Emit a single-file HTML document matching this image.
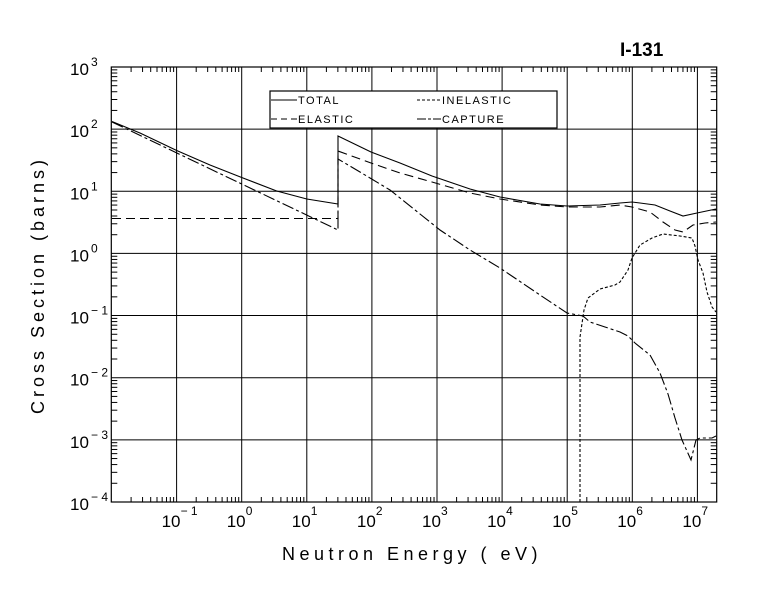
<!DOCTYPE html>
<html><head><meta charset="utf-8"><style>
html,body{margin:0;padding:0;background:#fff;}
svg{display:block;}
text{font-family:"Liberation Sans",sans-serif;fill:#000;}
</style></head><body>
<svg id="s" width="780" height="590" viewBox="0 0 780 590" xmlns="http://www.w3.org/2000/svg">
<g id="grid" stroke="#000" stroke-width="1" fill="none"></g>
<rect x="111.3" y="67" width="605.4" height="435" fill="none" stroke="#000" stroke-width="1.2"/>
<g fill="none" stroke="#000" stroke-width="1.1">
<polyline stroke-dasharray="12,3,3,3" points="112,122 338,230 338,159 360,172 390,190 420,214 440,230 470,250 500,268 540,295 567,313 583,316 590,322 605,327 620,332 628,336 635,343 650,355 660,373 668,394 675,418 682,440 691,460 696,440 700,438 712,438 716,436"/>
<polyline stroke-dasharray="9,5" points="112,218.5 338,218.5 338,151 371,163 400,173 432,182 470,193 500,199 540,205 567,207 600,207 620,205 632,207 650,212 663,222 675,230 683,232 693,225 705,223 716,222"/>
<polyline points="112,121.5 140,133 176.7,150.5 210,165 241.7,177.5 276.7,191 306.8,199 338,204 338,136 371,152 400,163 432,176 470,189 500,197 540,204 567,206 600,205 620,203 632,202 640,203 655,205 670,211 683,216 697,213 716,209"/>
<polyline stroke-dasharray="3,2" points="580,502 580,337 584,310 588,298 600,289 615,285 620,282 628,270 632,258 640,245 652,238 663,234 680,236 692,238 695,246 698,260 703,273 707,292 712,307 716,312"/>
</g>
<rect x="270" y="91" width="287" height="37" fill="#fff" stroke="#000" stroke-width="1.2"/>
<g stroke="#000" stroke-width="1">
<line x1="271" y1="100" x2="297" y2="100"/>
<line x1="271" y1="119" x2="297" y2="119" stroke-dasharray="6,4"/>
<line x1="417" y1="100" x2="441" y2="100" stroke-dasharray="3,2"/>
<line x1="417" y1="119" x2="441" y2="119" stroke-dasharray="9,2,3,2"/>
</g>
<g font-size="11" letter-spacing="1.5">
<text x="298" y="104">TOTAL</text>
<text x="298" y="123">ELASTIC</text>
<text x="442" y="104">INELASTIC</text>
<text x="442" y="123">CAPTURE</text>
</g>
<text x="620" y="56" font-size="19" font-weight="bold">I-131</text>
<g id="labels" font-size="17"></g>
<text x="412" y="560" font-size="18" text-anchor="middle" letter-spacing="4.5">Neutron Energy ( eV)</text>
<text transform="translate(44,285) rotate(-90)" font-size="18" text-anchor="middle" letter-spacing="4">Cross Section (barns)</text>
</svg>
<script>
var NS="http://www.w3.org/2000/svg";
var g=document.getElementById("grid"),L=document.getElementById("labels");
function ln(x1,y1,x2,y2){var l=document.createElementNS(NS,"line");l.setAttribute("x1",x1);l.setAttribute("y1",y1);l.setAttribute("x2",x2);l.setAttribute("y2",y2);g.appendChild(l);}
function tx(x,y,s,fs,anchor){var t=document.createElementNS(NS,"text");t.setAttribute("x",x);t.setAttribute("y",y);t.textContent=s;if(fs)t.setAttribute("font-size",fs);if(anchor)t.setAttribute("text-anchor",anchor);L.appendChild(t);}
var X0=241.7,DX=65.1,L0=111.3,R0=716.7,T0=67,B0=502,DY=62.14;
function xp(e){return X0+DX*e;}function yp(e){return T0+DY*(3-e);}
for(var d=-2;d<=7;d++){for(var k=1;k<10;k++){var e=d+Math.log10(k);var x=xp(e);if(x<L0+0.5||x>R0-0.5)continue;
 if(k==1){ln(x,T0,x,B0);}else{ln(x,B0,x,B0-5);ln(x,T0,x,T0+5);}}}
for(var d=-4;d<=2;d++){for(var k=1;k<10;k++){var e=d+Math.log10(k);var y=yp(e);if(y<T0+0.5||y>B0-0.5)continue;
 if(k==1){ln(L0,y,R0,y);}else{ln(L0,y,L0+6,y);ln(R0,y,R0-6,y);}}}
for(var d=-1;d<=7;d++){var x=xp(d);tx(x-15,527,"10");tx(x+4,515,String(d).replace("-","\u2212 "),12);}
for(var d=-4;d<=3;d++){var y=yp(d);tx(70,y+8,"10");tx(91,y-1,String(d).replace("-","\u2212 "),12);}
</script>
</body></html>
